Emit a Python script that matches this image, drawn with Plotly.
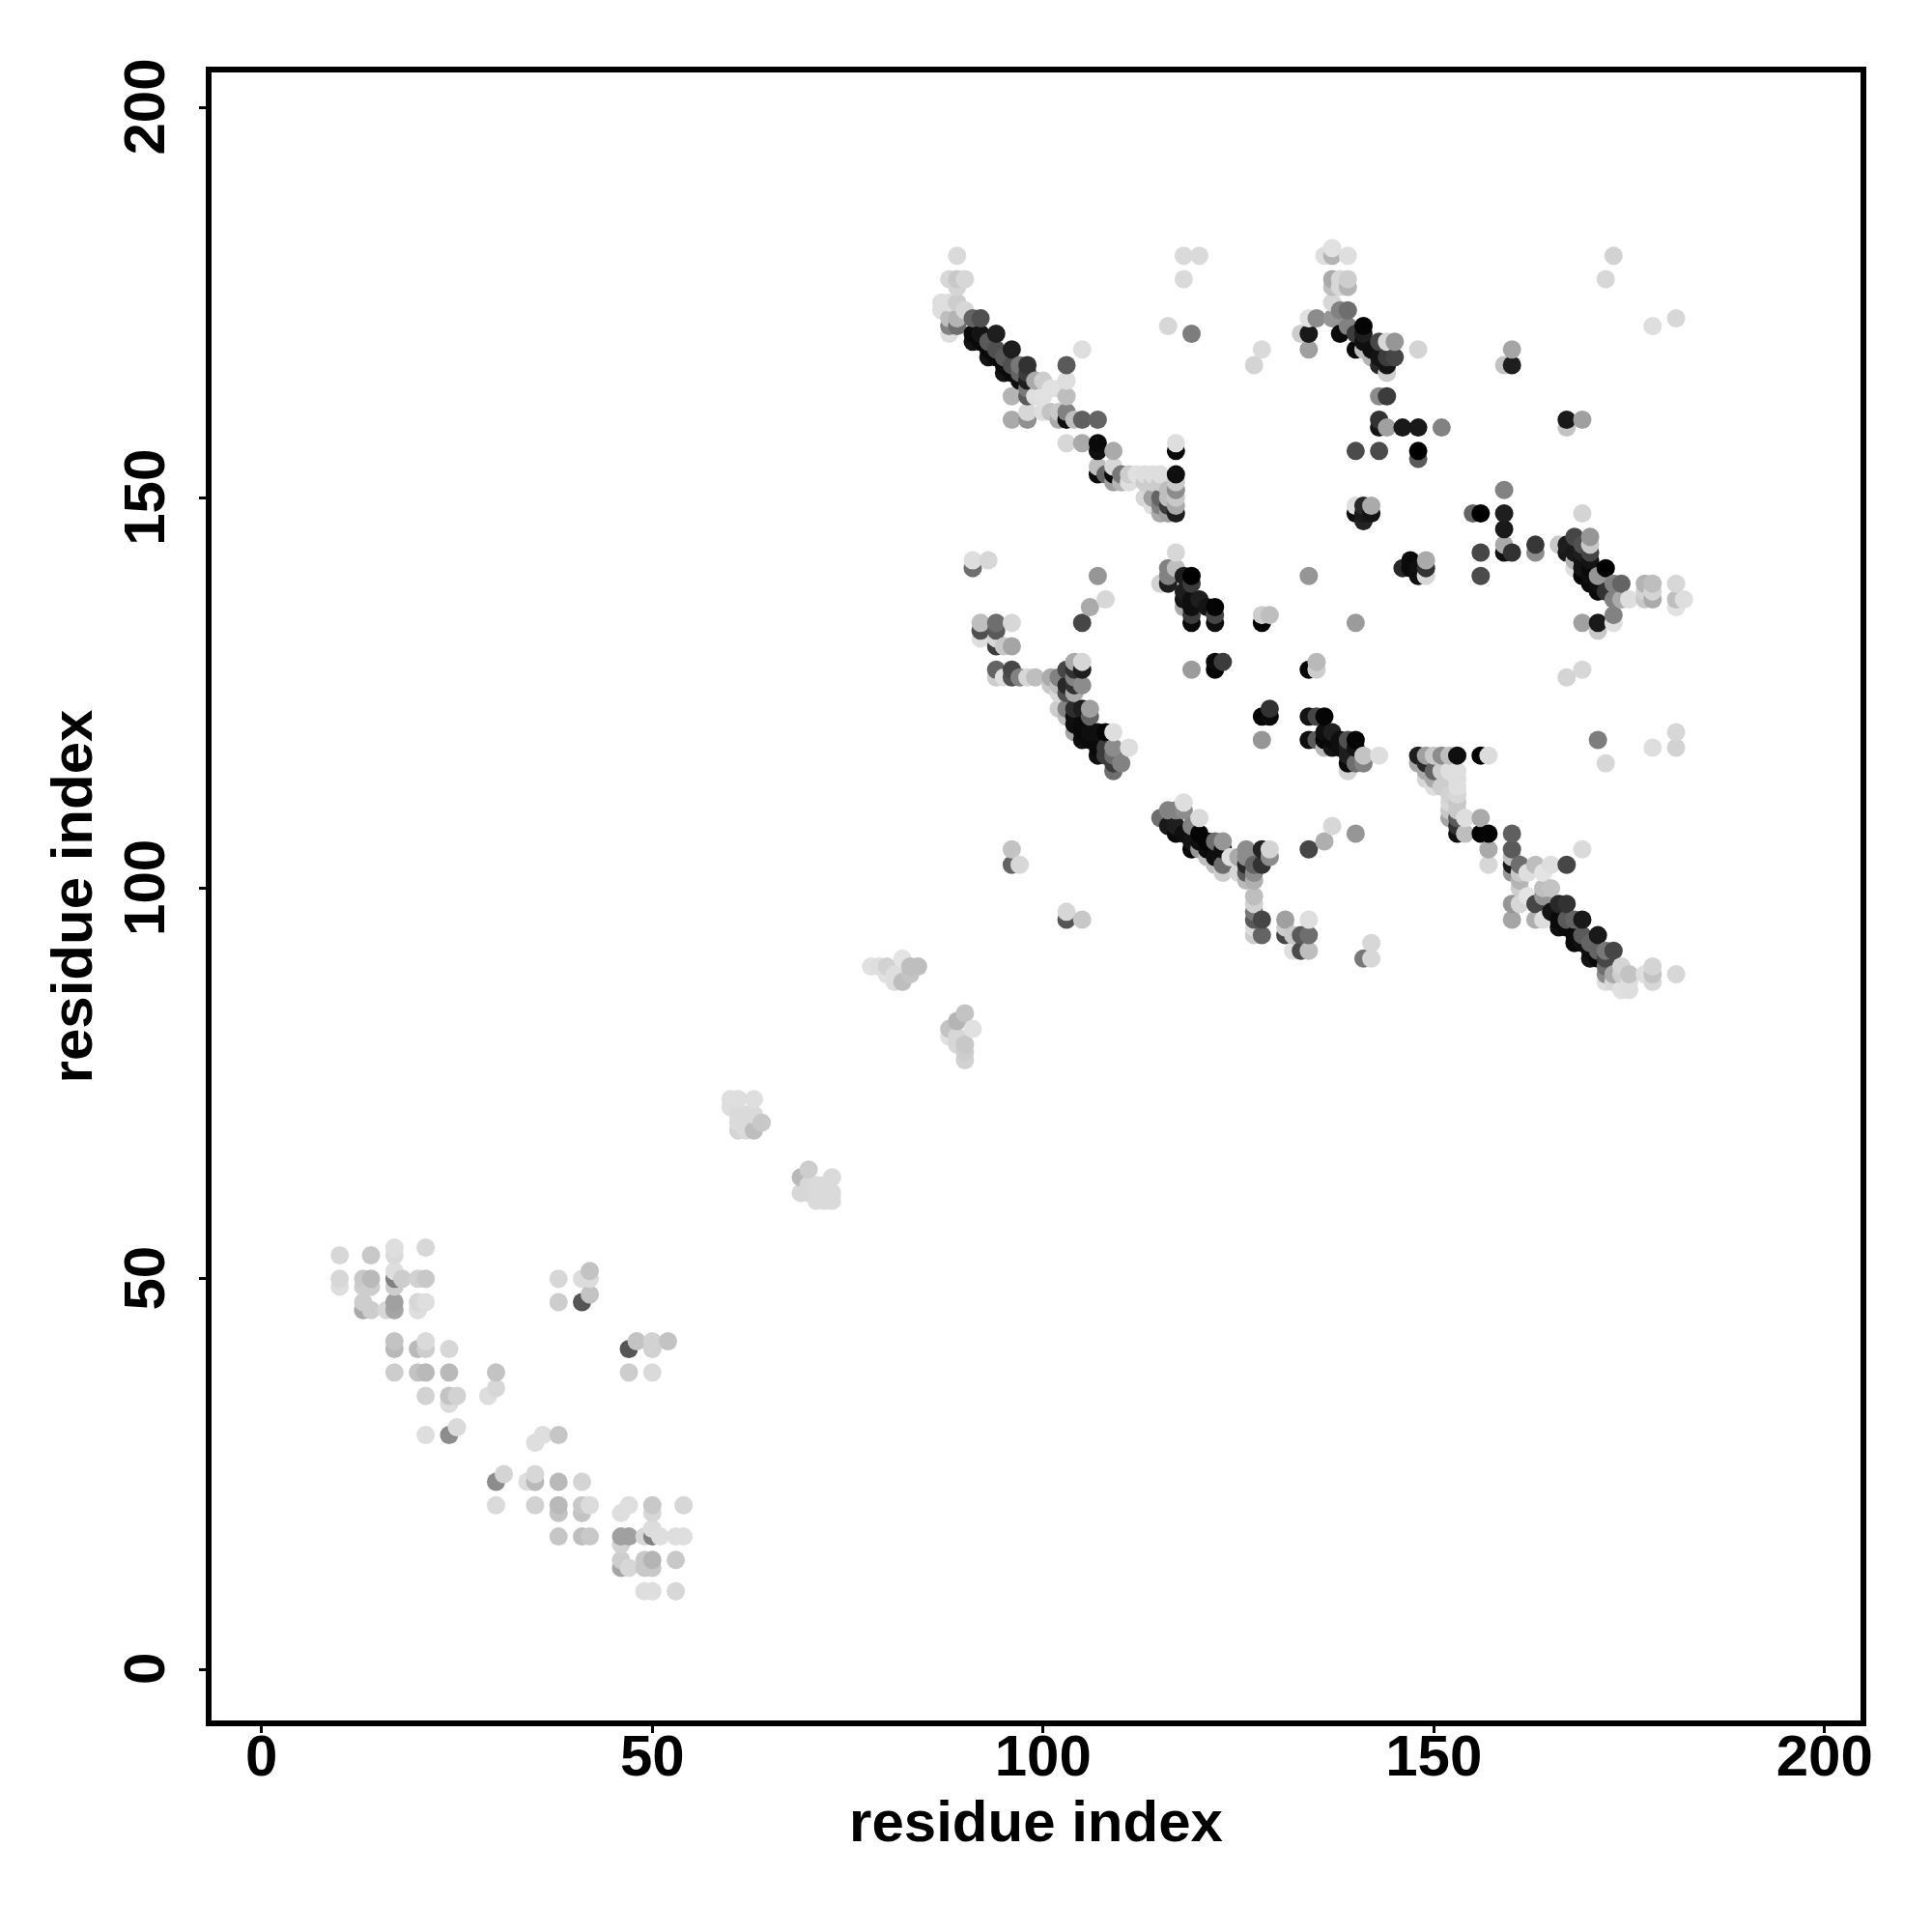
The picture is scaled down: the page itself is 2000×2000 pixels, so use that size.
import plotly.graph_objects as go

# (residue i, residue j, grey level 0-255), grouped by region.
contacts_low = [(10,53,215),(14,53,200),(17,54,222),(17,53,218),(21,54,215),(10,50,215),(10,49,222),(13,50,200),(13,49,205),(14,49,205),(14,50,185),(17,50,130),(17,51,222),(18,50,205),(17,49,205),(20,50,210),(21,50,200),
 (13,47,205),(13,46,170),(14,46,205),(16,46,215),(17,47,160),(17,46,165),(20,47,215),(21,47,222),(20,46,222),
 (17,42,195),(17,41,185),(20,41,185),(21,41,205),(21,42,218),(24,41,215),(17,38,205),(20,38,195),(21,38,185),(24,38,185),(30,38,195),
 (21,35,210),(24,35,195),(25,35,210),(24,34,220),(30,36,215),(29,35,222),(21,30,222),(24,30,140),(25,31,218),
 (38,50,215),(41,50,220),(42,50,220),(42,51,195),(38,47,205),(41,47,85),(42,48,195),(47,41,85),(48,42,195),(50,42,210),(50,41,210),(52,42,195),(47,38,205),(50,38,218),
 (35,29,222),(36,30,222),(38,30,198),(30,24,140),(31,25,212),(34,24,222),(35,24,185),(35,25,215),(38,24,185),(41,24,212),
 (30,21,218),(35,21,210),(38,21,185),(38,20,195),(41,21,200),(41,20,195),(42,21,220),(38,17,198),(41,17,190),(42,17,200),
 (46,17,160),(47,17,160),(50,21,200),(50,20,215),(54,21,215),(46,20,222),(47,21,222),(49,17,215),(50,17,130),(50,18,220),(51,17,222),(53,17,222),(54,17,222),
 (46,16,210),(46,14,205),(46,13,165),(47,13,215),(49,14,200),(49,13,200),(50,14,180),(50,13,200),(53,14,200),(49,10,222),(50,10,222),(53,10,215)]

contacts_mid = [(60,73,222),(61,73,222),(60,72,222),(61,71,218),(62,71,218),(63,73,222),(62,70,218),(63,71,218),(61,70,218),(61,69,212),(62,69,218),(63,69,190),(64,70,200),
 (69,63,185),(70,64,205),(69,61,215),(70,61,215),(70,62,215),(71,62,218),(71,61,218),(71,60,218),(72,60,218),(73,63,218),(73,61,218),(73,60,218),(72,62,218),
 (78,90,225),(79,90,222),(80,90,210),(80,89,225),(81,88,222),(81,89,222),(82,91,228),(82,88,190),(83,89,195),(83,90,190),(84,90,190),
 (90,84,195),(89,83,180),(88,82,195),(91,82,225),(88,81,225),(89,81,215),(89,80,215),(90,80,200),(90,79,205),(90,78,210)]

contacts_a = [(89,181,218),(88,178,215),(89,178,200),(90,178,215),(89,177,212),(87,175,222),(89,175,205),(87,174,222),(88,175,222),(90,174,215),(88,173,190),(89,173,180),(88,172,130),(89,172,110),(88,171,222),
 (91,173,100),(92,173,80),(94,171,30),(96,169,30),(98,167,50),(91,170,20),(93,168,20),(95,166,20),(97,165,15),(91,171,10),(92,171,20),(92,170,10),(93,169,10),(94,168,10),(94,169,80),(95,167,10),(96,166,10),(96,167,80),(97,166,100),(93,170,90),(95,168,90),(97,167,120),
 (98,166,60),(98,165,30),(98,164,120),(99,165,170),(100,165,205),(101,164,225),(102,164,225),(103,165,222),(103,167,90),(105,169,222),(103,163,190),(99,163,222),(100,163,225),(98,163,90),(96,163,180),(96,160,170),(98,160,145),(98,161,215),(100,161,222),(101,161,195),(102,161,200),(102,160,170),(103,160,15),(103,161,130),(104,160,190),(105,160,95),(107,160,100),
 (103,157,215),(105,157,170),(107,157,10),(107,156,15),(109,156,170),(107,154,190),(107,153,10),(108,153,100),(109,154,215),(109,153,10),(109,152,160),(110,153,120),(110,152,180),(111,153,205),(111,152,222),(112,153,225),(113,153,222),(114,153,222),(115,153,222),(113,152,205),(114,152,205),(115,152,205),
 (113,150,215),(114,150,160),(114,149,222),(115,150,100),(115,149,130),(115,148,170),(116,149,60),(116,150,190),(116,151,190),(117,152,200),(117,151,140),(117,150,200),(117,149,170),(117,148,30),(116,148,160),(117,153,15),(117,156,10),(117,157,222),
 (118,181,218),(120,181,218),(118,178,218),(116,172,215),(119,171,125),(128,169,218),(127,167,212)]

contacts_b = [(137,182,225),(136,181,222),(137,181,180),(139,181,222),(137,178,170),(137,177,190),(138,178,215),(139,178,205),(139,177,180),(138,177,215),(137,175,215),(138,174,130),(139,174,110),(137,173,150),(134,173,225),(135,173,140),
 (133,171,205),(134,171,25),(134,169,160),(138,171,10),(139,172,130),(141,172,5),(140,169,10),(141,171,30),(140,171,60),(141,170,15),(142,169,15),(141,169,190),(142,168,180),(143,170,70),(144,170,215),(145,170,150),(143,168,20),(143,167,40),(144,167,20),(145,168,70),(144,166,205),(144,168,60),(148,169,212),
 (143,163,140),(144,163,60),(143,160,50),(143,159,20),(144,159,160),(146,159,25),(148,159,25),(151,159,130),(140,156,75),(143,156,75),(148,156,0),(148,155,90),
 (160,169,165),(159,167,195),(160,167,30),(173,181,210),(172,178,215),(178,172,222),(181,173,215),(167,160,25),(167,159,195),(169,160,160),
 (140,149,222),(140,148,15),(141,149,40),(142,149,170),(142,148,20),(141,148,25),(141,147,35),(155,148,100),(156,148,0),(159,151,130),(159,148,30),(159,146,25),(159,144,170),(159,143,15),(160,143,50),(156,143,70),(163,144,55),(163,143,140),(169,148,212)]

contacts_c = [(166,144,200),(167,144,30),(167,143,25),(168,145,70),(170,145,150),(170,144,200),(169,144,80),(170,143,70),(169,143,30),(168,143,25),(168,142,180),(169,142,20),(170,142,20),(168,141,222),(169,141,20),(170,141,10),(172,141,0),(169,140,5),(170,140,15),(171,140,150),(171,139,15),(170,139,10),(171,138,10),(172,138,50),(173,139,130),(174,139,100),(173,137,130),(174,137,170),(175,137,222),
 (177,139,180),(178,139,190),(177,137,200),(178,137,170),(177,138,210),(178,138,212),(181,139,215),(181,137,190),(182,137,222),(181,136,225),(169,134,160),(171,134,25),(171,133,200),(173,135,130),(173,134,222),(167,127,212),(169,128,215),(134,140,150),(140,134,155),(156,140,75),
 (147,142,10),(149,142,170),(147,141,10),(146,141,40),(148,141,15),(149,141,50),(148,140,15),(149,140,215),(134,128,5),(135,128,205),(135,129,185)]

contacts_d = [(134,122,20),(135,122,70),(136,122,5),(134,119,15),(135,119,90),(136,120,15),(136,119,5),(137,120,30),(137,119,10),(137,118,20),(136,118,185),(138,119,15),(138,118,15),(139,119,80),(140,119,5),(139,118,30),(140,118,20),(139,117,30),(139,116,10),(139,115,210),(140,116,110),(141,116,130),(141,117,195),(143,117,222),
 (148,117,30),(148,116,165),(149,117,160),(150,117,200),(151,117,140),(152,117,190),(153,117,15),(156,117,0),(157,117,220),(149,116,40),(149,115,170),(150,115,100),(149,114,215),(150,114,170),(150,113,222),(151,115,205),(151,113,205),(152,115,222),(153,115,222),(153,114,222),(153,113,222),(152,112,210),(153,112,215),(152,111,215),(153,111,200),
 (171,119,125),(172,116,215),(178,118,222),(181,120,215),(181,118,210),
 (152,110,200),(153,110,200),(152,109,165),(153,109,90),(154,109,222),(156,109,170),(153,108,50),(153,107,15),(154,107,190),(156,107,0),(157,107,5),(160,107,95),(157,105,170),(157,103,215),(160,105,90),(160,104,190),(160,103,25),(160,102,150),(161,103,110),(161,102,200),(161,101,180),(161,100,205),(162,102,222),(163,103,190),(165,103,222),(164,102,228),(167,103,70),(169,105,218),(165,100,195),(162,99,228),(164,100,190),(164,99,150),(163,98,70),(160,98,150),(161,98,215),(160,96,165),(163,96,175),(164,96,222)]

contacts_e = [(166,98,40),(167,98,50),(169,96,25),(171,94,25),(173,92,70),(165,97,20),(166,95,15),(168,93,10),(170,91,20),(167,95,10),(166,96,10),(167,96,90),(168,96,100),(168,94,10),(169,94,90),(169,93,15),(170,92,15),(170,93,100),(171,92,100),(171,91,10),(172,92,120),(172,91,70),(172,90,110),(172,89,140),(172,88,222),(173,89,170),(173,88,215),(174,90,212),(174,89,205),(174,87,225),(175,89,195),(175,87,222),(175,88,222),(177,89,222),(178,90,212),(178,89,195),(178,88,215),(181,89,215),
 (142,93,215),(142,91,215),(141,91,120),(137,108,215),(136,106,175),(134,105,70),(140,107,150)]

contacts_f = [(96,105,195),(96,103,100),(97,103,215),(103,97,215),(103,96,85),(105,96,200),
 (115,109,110),(116,110,130),(117,110,130),(118,111,222),(118,110,140),(116,108,25),(117,108,30),(117,107,10),(118,107,15),(119,108,130),(120,109,218),(120,107,5),(120,106,15),(119,106,20),(119,105,5),(120,105,150),(121,106,5),(121,105,10),(122,106,110),(122,104,15),(121,104,190),(122,103,190),(123,106,150),(123,105,15),(123,103,110),(123,102,205),(124,104,222),(125,104,170),(125,102,215),
 (126,105,140),(126,104,140),(126,103,40),(126,102,90),(126,101,185),(127,101,175),(127,102,140),(127,103,100),(128,105,35),(128,103,50),(129,105,212),(129,104,140),(127,99,190),(127,98,210),(127,97,120),(127,96,90),(128,96,70),(127,95,220),(127,94,205),(128,94,100),
 (131,96,160),(131,95,205),(131,94,70),(132,94,200),(133,94,90),(134,94,110),(134,96,222),(132,92,222),(133,92,75),(134,92,190)]

contacts_g = [(91,142,222),(93,142,215),(91,141,110),(92,134,190),(94,134,110),(96,134,215),(92,133,80),(94,133,90),(92,132,222),(94,132,215),(94,131,60),(95,131,200),(96,131,165),
 (94,128,100),(96,128,70),(94,127,205),(95,127,222),(96,127,80),(97,127,130),(98,127,215),(99,127,190),(101,127,170),(101,126,200),(102,127,130),(103,128,70),(103,126,40),(102,126,190),(102,125,215),(102,123,205),(103,125,80),(103,123,130),(103,122,190),(104,129,170),(104,128,50),(104,127,130),(104,126,50),(104,125,170),(105,129,215),(105,128,30),(105,126,140),
 (104,123,45),(105,123,30),(106,123,160),(106,122,100),(104,122,15),(104,121,15),(105,121,10),(104,120,165),(105,120,10),(105,119,15),(106,120,15),(106,119,10),(107,120,15),(107,118,10),(107,117,15),(108,120,5),(109,120,222),(108,118,60),(108,117,60),(109,118,140),(109,117,110),(109,115,110),(110,116,130),(111,118,222),(109,116,60),
 (107,140,150),(108,137,215),(106,136,170),(105,134,70),
 (117,143,215),(116,141,130),(117,141,190),(115,139,210),(116,140,130),(116,139,30),(118,140,30),(119,140,0),(119,139,60),(118,138,30),(118,137,20),(118,136,170),(119,137,15),(119,136,15),(120,137,30),(119,135,60),(119,134,10),(121,136,20),(122,136,5),(122,135,70),(122,134,15),(128,135,205),(129,135,190),(128,134,0),
 (119,128,155),(122,129,10),(123,129,60),(122,128,5),(128,122,5),(129,123,50),(129,122,10),(128,119,150)]

tick_vals = [0, 50, 100, 150, 200]

# The dots overlap in index order: ascending i, then ascending j.
points = sorted(contacts_low + contacts_mid + contacts_a + contacts_b + contacts_c
                + contacts_d + contacts_e + contacts_f + contacts_g, key=lambda p: (p[0], p[1]))

fig = go.Figure(go.Scatter(x=[p[0] for p in points], y=[p[1] for p in points], mode="markers",
                           marker=dict(size=19, color=[f"rgb({p[2]},{p[2]},{p[2]})" for p in points],
                                       line=dict(width=0), opacity=1),
                           hoverinfo="skip", showlegend=False))

font = dict(family="Liberation Sans", size=60, color="black", weight="bold")
axis = dict(tickvals=tick_vals, ticks="outside", ticklen=7, tickwidth=3, tickcolor="black",
            showgrid=False, zeroline=False, showline=True, linecolor="black", linewidth=5.5,
            mirror=True, tickfont=font, title=dict(text="residue index", font=font))
fig.update_xaxes(range=[-6.40, 204.6], ticklabelstandoff=-28, title_standoff=16, **axis)
fig.update_yaxes(range=[-6.55, 204.47], tickangle=-90, ticklabelstandoff=12, title_standoff=3,
                 ticktext=[f"{v}\u00a0" for v in tick_vals], **axis)
fig.update_layout(width=2000, height=2000, paper_bgcolor="white", plot_bgcolor="white",
                  margin=dict(l=211.25, r=82.25, t=66.75, b=226.75, autoexpand=False))
fig.write_html("out.html")
